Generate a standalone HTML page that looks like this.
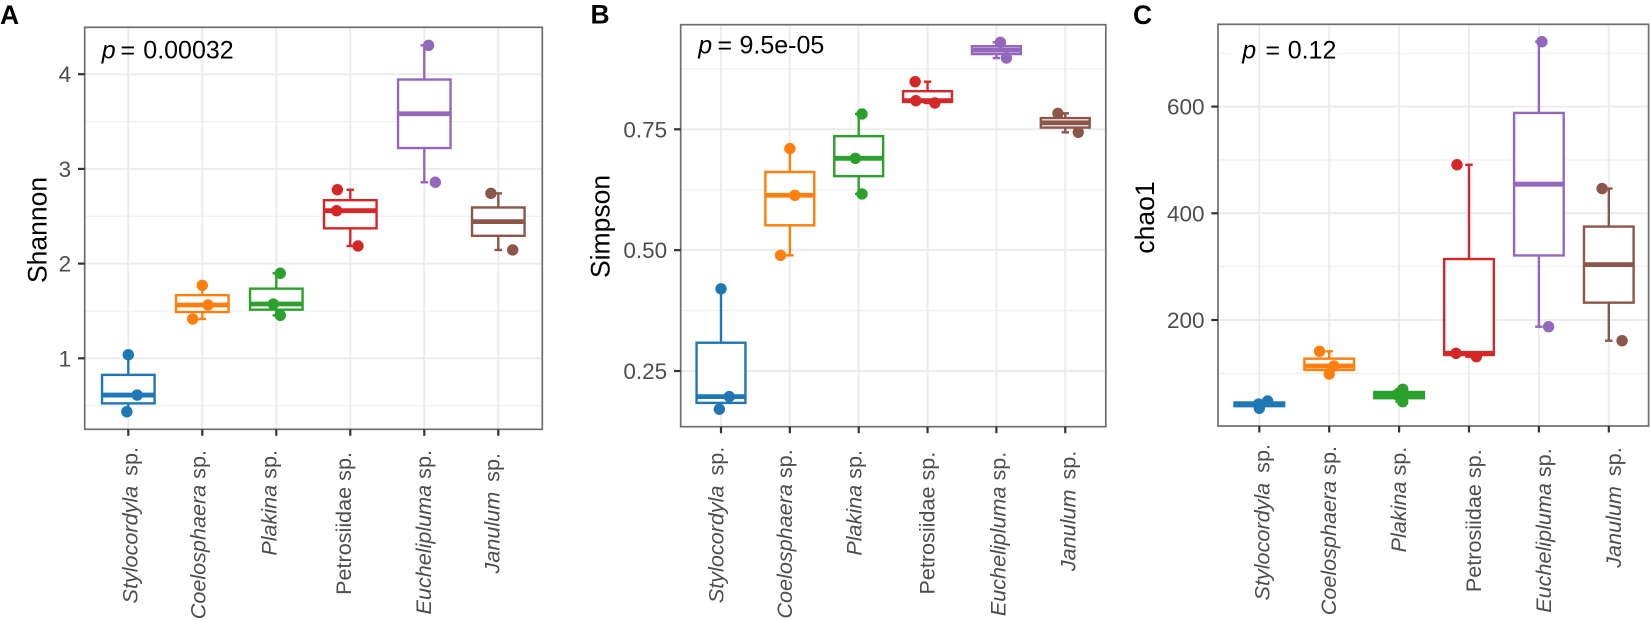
<!DOCTYPE html>
<html lang="en">
<head>
<meta charset="utf-8">
<title>Alpha diversity boxplots</title>
<style>
html,body{margin:0;padding:0;background:#fff;width:1650px;height:620px;overflow:hidden}
svg{display:block;font-family:"Liberation Sans",Arial,sans-serif;filter:blur(0.35px)}
.panel-letter{font-size:26.5px;font-weight:bold;fill:#000}
.p-text{font-size:25px;fill:#000}
.axis-title{font-size:26.5px;fill:#000}
.y-tick-label{font-size:22.5px;fill:#4d4d4d;text-anchor:end}
.x-tick-label{font-size:21.6px;fill:#4d4d4d;text-anchor:end}
</style>
</head>
<body>
<svg id="figure" width="1650" height="620" viewBox="0 0 1650 620" xmlns="http://www.w3.org/2000/svg">
  <rect x="0" y="0" width="1650" height="620" fill="#fff"/>
  <g id="panel-a"></g>
  <g id="panel-b"></g>
  <g id="panel-c"></g>
  <text class="panel-letter" x="0" y="24">A</text>
  <text class="panel-letter" x="590.5" y="23.5">B</text>
  <text class="panel-letter" x="1133" y="24">C</text>
  <text class="axis-title" transform="translate(46.5 230) rotate(-90)" text-anchor="middle">Shannon</text>
  <text class="axis-title" transform="translate(609.5 226.5) rotate(-90)" text-anchor="middle">Simpson</text>
  <text class="axis-title" transform="translate(1154 217.5) rotate(-90)" text-anchor="middle">chao1</text>
  <text class="p-text" y="58.3"><tspan x="101.7" font-style="italic">p</tspan><tspan x="120.5">=</tspan><tspan x="143.3">0.00032</tspan></text>
  <text class="p-text" y="53.3"><tspan x="698.3" font-style="italic">p</tspan><tspan x="717.5">=</tspan><tspan x="739.5">9.5e-05</tspan></text>
  <text class="p-text" y="58.3"><tspan x="1242.3" font-style="italic">p</tspan><tspan x="1265.5">=</tspan><tspan x="1287.7">0.12</tspan></text>
</svg>
<script>
// ---- chart data ----
const categories = ['Stylocordyla', 'Coelosphaera', 'Plakina', 'Petrosiidae', 'Euchelipluma', 'Janulum'];
const shannonPoints = [[1.038, 0.612, 0.436], [1.771, 1.563, 1.415], [1.898, 1.573, 1.454], [2.78, 2.559, 2.186], [4.305, 2.859], [2.742, 2.144]];
const shannonJitter = [[0, 0.12, -0.02], [0, 0.077, -0.13], [0.054, -0.04, 0.054], [-0.175, -0.185, 0.104], [0.058, 0.149], [-0.1, 0.195]];
const simpsonPoints = [[0.42, 0.197, 0.171], [0.71, 0.6135, 0.4893], [0.7817, 0.69, 0.6162], [0.8485, 0.8092, 0.8044], [0.93, 0.8975], [0.783, 0.7438]];
const simpsonJitter = [[0, 0.12, -0.024], [0, 0.073, -0.135], [0.048, -0.048, 0.048], [-0.18, -0.17, 0.106], [0.058, 0.145], [-0.106, 0.189]];
const chao1Points = [[48.2, 42.5, 34.5], [141.3, 113.8, 98.8], [70.1, 60, 46.9], [491, 137.6, 131.2], [721.7, 187.4], [446.4, 161.2]];
const chao1Jitter = [[0.119, -0.01, 0], [-0.138, 0.067, 0], [0.052, -0.03, 0.052], [-0.172, -0.186, 0.105], [0.043, 0.139], [-0.096, 0.19]];
const shannonTicks = [1, 2, 3, 4];
const shannonMinor = [0.5, 1.5, 2.5, 3.5];
const simpsonTicks = [0.25, 0.5, 0.75];
const simpsonMinor = [0.375, 0.625, 0.875];
const chao1Ticks = [200, 400, 600];
const chao1Minor = [100, 300, 500, 700];

// ---- appearance ----
const colors = ['#1f77b4', '#ff7f0e', '#2ca02c', '#d62728', '#9467bd', '#8c564b'];
const SVGNS = 'http://www.w3.org/2000/svg';

const panels = [
  { id: 'panel-a', key: 'shannon', points: shannonPoints, jitter: shannonJitter, ticks: shannonTicks, minor: shannonMinor, fmt: v => String(v),
    left: 84.7, right: 542.3, top: 27.3, bottom: 429.3, xFirst: 128.3, xStep: 74,
    yRefValue: 1, yRefPx: 358.3, yPerUnit: 94.7,
    labelShift: { Stylocordyla: [9, 447], Coelosphaera: [3.3, 450], Plakina: [0, 450], Petrosiidae: [0.5, 452], Euchelipluma: [6.7, 450], Janulum: [1, 453] } },
  { id: 'panel-b', key: 'simpson', points: simpsonPoints, jitter: simpsonJitter, ticks: simpsonTicks, minor: simpsonMinor, fmt: v => v.toFixed(2),
    left: 680.7, right: 1105.8, top: 24.7, bottom: 426.7, xFirst: 721, xStep: 68.85,
    yRefValue: 0.25, yRefPx: 371, yPerUnit: 483.4,
    labelShift: { Stylocordyla: [2.3, 446.7], Coelosphaera: [2, 449.3], Plakina: [2.7, 450], Petrosiidae: [7, 451.7], Euchelipluma: [9, 451.7], Janulum: [10, 450.7] } },
  { id: 'panel-c', key: 'chao1', points: chao1Points, jitter: chao1Jitter, ticks: chao1Ticks, minor: chao1Minor, fmt: v => String(v),
    left: 1218, right: 1648.6, top: 24.3, bottom: 426, xFirst: 1259.3, xStep: 69.9,
    yRefValue: 200, yRefPx: 320, yPerUnit: 0.5335,
    labelShift: { Stylocordyla: [10, 444], Coelosphaera: [6.7, 446], Plakina: [6.7, 446.7], Petrosiidae: [12, 449.3], Euchelipluma: [12, 448.3], Janulum: [12, 447.3] } }
];
const wideGapLabels = ['Stylocordyla', 'Janulum'];

function quantile(sorted, q) {
  const pos = (sorted.length - 1) * q;
  const lo = Math.floor(pos);
  const hi = Math.ceil(pos);
  return sorted[lo] + (sorted[hi] - sorted[lo]) * (pos - lo);
}

function line(parent, x1, y1, x2, y2, stroke, width) {
  const l = document.createElementNS(SVGNS, 'line');
  l.setAttribute('x1', x1);
  l.setAttribute('y1', y1);
  l.setAttribute('x2', x2);
  l.setAttribute('y2', y2);
  l.setAttribute('stroke', stroke);
  l.setAttribute('stroke-width', width);
  parent.appendChild(l);
  return l;
}

panels.forEach(p => {
  const root = document.getElementById(p.id);
  const xScale = i => p.xFirst + i * p.xStep;
  const yScale = v => p.yRefPx - (v - p.yRefValue) * p.yPerUnit;
  const boxWidth = p.xStep * 0.71;
  const capWidth = 7.5;
  const markStroke = 2.4;

  const bg = document.createElementNS(SVGNS, 'rect');
  
  
  bg.setAttribute('x', p.left);
  bg.setAttribute('y', p.top);
  bg.setAttribute('width', p.right - p.left);
  bg.setAttribute('height', p.bottom - p.top);
  bg.setAttribute('fill', '#fff');
  root.appendChild(bg);

  // horizontal grid
  p.minor.forEach(v => {
    const g = line(root, p.left, yScale(v), p.right, yScale(v), '#f0f0f0', 1.3);
    
    
  });
  p.ticks.forEach(v => {
    const g = line(root, p.left, yScale(v), p.right, yScale(v), '#ececec', 2);
    
    
  });

  // the p-value label background interrupts the top gridline in panel C
  if (p.key === 'chao1') {
    const mask = document.createElementNS(SVGNS, 'rect');
    
    
    mask.setAttribute('x', 1231);
    mask.setAttribute('y', 49);
    mask.setAttribute('width', 106);
    mask.setAttribute('height', 8);
    mask.setAttribute('fill', '#fff');
    root.appendChild(mask);
  }

  // vertical grid
  categories.forEach((c, i) => {
    const g = line(root, xScale(i), p.top, xScale(i), p.bottom, '#ececec', 2);
    
    
  });

  // boxes computed from the sample points
  categories.forEach((c, i) => {
    const vals = p.points[i].slice().sort((a, b) => a - b);
    const q1 = quantile(vals, 0.25);
    const med = quantile(vals, 0.5);
    const q3 = quantile(vals, 0.75);
    const lo = vals[0];
    const hi = vals[vals.length - 1];
    const cx = xScale(i);
    const color = colors[i];

    const group = document.createElementNS(SVGNS, 'g');
    
    
    root.appendChild(group);

    const wh = line(group, cx, yScale(hi), cx, yScale(q3), color, markStroke);
    
    
    const wl = line(group, cx, yScale(q1), cx, yScale(lo), color, markStroke);
    
    
    const ch = line(group, cx - capWidth / 2, yScale(hi), cx + capWidth / 2, yScale(hi), color, markStroke);
    
    
    const cl = line(group, cx - capWidth / 2, yScale(lo), cx + capWidth / 2, yScale(lo), color, markStroke);
    
    

    const box = document.createElementNS(SVGNS, 'rect');
    
    
    box.setAttribute('x', cx - boxWidth / 2);
    box.setAttribute('y', yScale(q3));
    box.setAttribute('width', boxWidth);
    box.setAttribute('height', yScale(q1) - yScale(q3));
    box.setAttribute('fill', '#fff');
    box.setAttribute('stroke', color);
    box.setAttribute('stroke-width', markStroke);
    group.appendChild(box);

    const m = line(group, cx - boxWidth / 2, yScale(med), cx + boxWidth / 2, yScale(med), color, 4.8);
    
    

    p.points[i].forEach((v, j) => {
      const dot = document.createElementNS(SVGNS, 'circle');
      
      
      dot.setAttribute('cx', xScale(i + p.jitter[i][j]));
      dot.setAttribute('cy', yScale(v));
      dot.setAttribute('r', 5.7);
      dot.setAttribute('fill', color);
      group.appendChild(dot);
    });
  });

  // panel border
  const border = document.createElementNS(SVGNS, 'rect');
  
  
  border.setAttribute('x', p.left);
  border.setAttribute('y', p.top);
  border.setAttribute('width', p.right - p.left);
  border.setAttribute('height', p.bottom - p.top);
  border.setAttribute('fill', 'none');
  border.setAttribute('stroke', '#6e6e6e');
  border.setAttribute('stroke-width', 1.7);
  root.appendChild(border);

  // y ticks and labels
  p.ticks.forEach(v => {
    const t = line(root, p.left - 6.7, yScale(v), p.left, yScale(v), '#333', 2.2);
    
    
    const label = document.createElementNS(SVGNS, 'text');
    
    
    label.setAttribute('class', 'y-tick-label');
    label.setAttribute('x', p.left - 13.5);
    label.setAttribute('y', yScale(v) + 8);
    label.textContent = p.fmt(v);
    root.appendChild(label);
  });

  // x ticks and labels
  categories.forEach((c, i) => {
    const t = line(root, xScale(i), p.bottom, xScale(i), p.bottom + 6.5, '#333', 2.2);
    
    
    const shift = p.labelShift[c];
    const label = document.createElementNS(SVGNS, 'text');
    
    
    label.setAttribute('class', 'x-tick-label');
    label.setAttribute('transform', 'translate(' + (xScale(i) + shift[0]) + ' ' + shift[1] + ') rotate(-90)');
    const name = document.createElementNS(SVGNS, 'tspan');
    if (c !== 'Petrosiidae') name.setAttribute('font-style', 'italic');
    name.textContent = c;
    label.appendChild(name);
    const suffix = document.createElementNS(SVGNS, 'tspan');
    suffix.setAttribute('dx', wideGapLabels.includes(c) ? 10 : 6);
    suffix.textContent = 'sp.';
    label.appendChild(suffix);
    root.appendChild(label);
  });
});
</script>
</body>
</html>
